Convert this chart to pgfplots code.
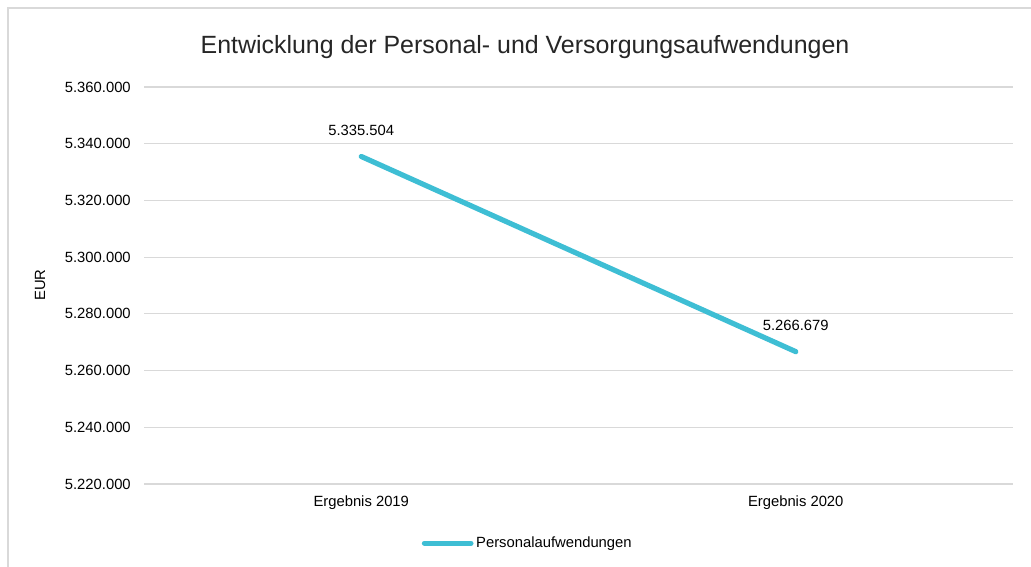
\documentclass[border=0pt]{standalone}
\usepackage{pgfplots}
\pgfplotsset{compat=1.18}
\usepackage{fontspec}
\setmainfont{Liberation Sans}
\definecolor{linec}{RGB}{62,190,212}
\definecolor{gridc}{RGB}{217,217,217}
\begin{document}
\begin{tikzpicture}
\useasboundingbox (0,0) rectangle (773.25pt,-425.25pt);
\clip (0,0) rectangle (773.25pt,-425.25pt);
\fill[white] (0,0) rectangle (773.25pt,-425.25pt);
\draw[gridc, line width=1.2pt] (6pt,-440pt) -- (6pt,-6pt) -- (790pt,-6pt);
\node[font=\fontsize{18.7}{22}\selectfont, text=black!85] at (393.75pt,-35.5pt) {Entwicklung der Personal- und Versorgungsaufwendungen};
\node[font=\fontsize{11.1}{13}\selectfont, text=black, rotate=90] at (30pt,-213.75pt) {EUR};
\begin{axis}[
  at={(108pt,-363pt)}, anchor=south west,
  scale only axis, width=651.75pt, height=297.75pt,
  xmin=-0.5, xmax=1.5, ymin=5220000, ymax=5360000,
  xtick={0,1}, xticklabels={Ergebnis 2019, Ergebnis 2020},
  ytick={5220000,5240000,5260000,5280000,5300000,5320000,5340000,5360000},
  scaled y ticks=false,
  /pgf/number format/.cd, fixed, precision=0, 1000 sep={.}, assume math mode=true,
  /pgfplots/.cd,
  axis line style={draw=none},
  major tick length=0pt,
  ymajorgrids, grid style={gridc, line width=0.9pt},
  tick label style={font=\fontsize{11.1}{13}\selectfont, text=black},
  xticklabel style={anchor=center, yshift=-14.25pt},
  yticklabel style={anchor=east, inner sep=0pt, xshift=-9.75pt},
  legend style={at={(0.442,-0.149)}, anchor=center, draw=none, fill=none,
    font=\fontsize{11.1}{13}\selectfont, text=black, legend columns=1},
  legend cell align=left,
  legend image code/.code={\draw[line width=3.75pt, line cap=round, linec] (0pt,0pt) -- (35pt,0pt);},
  nodes near coords, point meta=explicit symbolic,
  every node near coord/.append style={anchor=center, yshift=19.5pt, font=\fontsize{11.1}{13}\selectfont, text=black},
]
\addplot[linec, line width=3.9pt, line cap=round, mark=none] coordinates {(0,5335504)[5.335.504] (1,5266679)[5.266.679]};
\addlegendentry{Personalaufwendungen}
\end{axis}
\end{tikzpicture}
\end{document}
